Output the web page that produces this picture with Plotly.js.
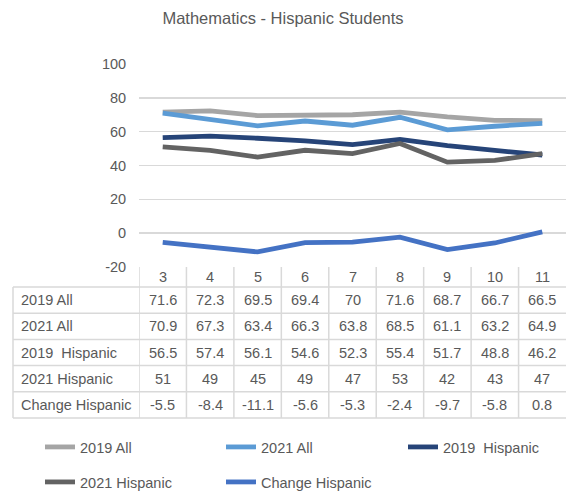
<!DOCTYPE html>
<html>
<head>
<meta charset="utf-8">
<script src="https://cdn.plot.ly/plotly-3.0.1.min.js"></script>
<style>html,body{margin:0;padding:0;background:#fff;}#chart{width:566px;height:493px;}</style>
</head>
<body>
<div id="chart"></div>
<script>
// ---- data ----
var grades = ['3', '4', '5', '6', '7', '8', '9', '10', '11'];
var seriesNames = ['2019 All', '2021 All', '2019\u00a0 Hispanic', '2021 Hispanic', 'Change Hispanic'];
var all2019 = [71.6, 72.3, 69.5, 69.4, 70, 71.6, 68.7, 66.7, 66.5];
var all2021 = [70.9, 67.3, 63.4, 66.3, 63.8, 68.5, 61.1, 63.2, 64.9];
var hisp2019 = [56.5, 57.4, 56.1, 54.6, 52.3, 55.4, 51.7, 48.8, 46.2];
var hisp2021 = [51, 49, 45, 49, 47, 53, 42, 43, 47];
var changeHisp = [-5.5, -8.4, -11.1, -5.6, -5.3, -2.4, -9.7, -5.8, 0.8];
var yTicks = [-20, 0, 20, 40, 60, 80, 100];

// ---- style ----
var colors = ['#A5A5A5', '#5B9BD5', '#264478', '#636363', '#4472C4'];
var legendOf = ['legend', 'legend', 'legend3', 'legend2', 'legend2'];
var seriesValues = [all2019, all2021, hisp2019, hisp2021, changeHisp];
var textColor = '#595959';
var FONT = 'Liberation Sans, Arial, sans-serif';
var W = 566, H = 493;
var plotLeft = 139, plotTop = 64, plotBottom = 267;
var plotW = W - plotLeft, plotH = plotBottom - plotTop;
function px2x(p) { return (p - plotLeft) / plotW; }
function px2y(p) { return (plotBottom - p) / plotH; }

var traces = seriesNames.map(function (name, i) {
  return {
    type: 'scatter', mode: 'lines', name: name,
    x: grades, y: seriesValues[i],
    line: { color: colors[i], width: 4.8 },
    legend: legendOf[i],
    hoverinfo: 'skip'
  };
});

// ---- data table under the axis ----
var rowBounds = [287, 313.2, 339.4, 365.6, 391.8, 418];
var headerMid = 277;
var tableLeft = 13;
var gridCol = '#D9D9D9';
var annotations = [];
var shapes = [];
var cellFont = { family: FONT, size: 14.5, color: textColor };

grades.forEach(function (g, c) {
  annotations.push({ xref: 'x', yref: 'paper', x: c, y: px2y(headerMid), text: g,
    showarrow: false, xanchor: 'center', yanchor: 'middle', font: cellFont });
});
seriesNames.forEach(function (name, r) {
  var mid = (rowBounds[r] + rowBounds[r + 1]) / 2;
  annotations.push({ xref: 'paper', yref: 'paper', x: px2x(19), y: px2y(mid), text: name,
    showarrow: false, xanchor: 'left', yanchor: 'middle', font: cellFont });
  seriesValues[r].forEach(function (v, c) {
    annotations.push({ xref: 'x', yref: 'paper', x: c, y: px2y(mid), text: String(v),
      showarrow: false, xanchor: 'center', yanchor: 'middle', font: cellFont });
  });
});
rowBounds.forEach(function (b) {
  shapes.push({ type: 'line', xref: 'paper', yref: 'paper', x0: px2x(tableLeft), x1: 1,
    y0: px2y(b), y1: px2y(b), line: { color: gridCol, width: 1.5 }, layer: 'below' });
});
for (var k = 0; k < grades.length; k++) {
  shapes.push({ type: 'line', xref: 'x', yref: 'paper', x0: k - 0.5, x1: k - 0.5,
    y0: 0, y1: px2y(rowBounds[rowBounds.length - 1]), line: { color: gridCol, width: 1.5 }, layer: 'below' });
}
shapes.push({ type: 'line', xref: 'paper', yref: 'paper', x0: px2x(tableLeft), x1: px2x(tableLeft),
  y0: px2y(rowBounds[0]), y1: px2y(rowBounds[rowBounds.length - 1]), line: { color: gridCol, width: 1.5 }, layer: 'below' });

var legendCommon = {
  orientation: 'h', xanchor: 'left', yanchor: 'middle',
  x: px2x(40), entrywidth: 136, entrywidthmode: 'pixels',
  font: { family: FONT, size: 14.5, color: textColor },
  bgcolor: 'rgba(0,0,0,0)', borderwidth: 0, traceorder: 'normal'
};
var layout = {
  width: W, height: H,
  margin: { l: plotLeft, r: 0, t: plotTop, b: H - plotBottom, pad: 0, autoexpand: false },
  paper_bgcolor: '#ffffff', plot_bgcolor: '#ffffff',
  font: { family: FONT, color: textColor },
  title: { text: 'Mathematics - Hispanic Students', x: 0.5, xref: 'container', xanchor: 'center',
    y: 1 - 18 / H, yref: 'container', yanchor: 'middle',
    font: { family: FONT, size: 16.5, color: textColor } },
  xaxis: { type: 'category', categoryarray: grades, range: [-0.5, grades.length - 0.5],
    showticklabels: false, showgrid: false, zeroline: false, showline: false, fixedrange: true },
  yaxis: { range: [-20, 100], tickvals: yTicks, ticktext: yTicks.map(String),
    showgrid: true, gridcolor: gridCol, gridwidth: 1.5, zeroline: false, showline: false,
    ticks: 'outside', ticklen: 9, tickcolor: 'rgba(0,0,0,0)',
    tickfont: { family: FONT, size: 14.5, color: textColor }, fixedrange: true },
  showlegend: true,
  legend: Object.assign({}, legendCommon, { y: px2y(447) }),
  legend3: Object.assign({}, legendCommon, { x: px2x(403), entrywidth: 100, y: px2y(447) }),
  legend2: Object.assign({}, legendCommon, { y: px2y(482) }),
  annotations: annotations,
  shapes: shapes
};
Plotly.newPlot('chart', traces, layout, { displayModeBar: false, staticPlot: true });
</script>
</body>
</html>
